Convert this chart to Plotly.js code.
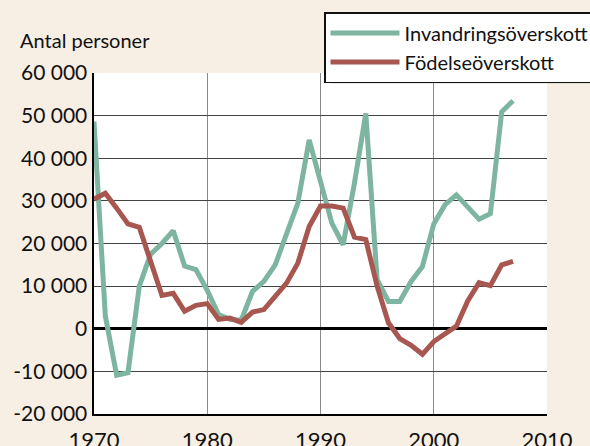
<!DOCTYPE html>
<html>
<head>
<meta charset="utf-8">
<script src="https://cdn.plot.ly/plotly-3.0.1.min.js"></script>
<style>html,body{margin:0;padding:0;background:#f7efe3;}#chart{width:590px;height:446px;}</style>
</head>
<body>
<div id="chart"></div>
<script>
const years = [1970,1971,1972,1973,1974,1975,1976,1977,1978,1979,1980,1981,1982,1983,1984,1985,1986,1987,1988,1989,1990,1991,1992,1993,1994,1995,1996,1997,1998,1999,2000,2001,2002,2003,2004,2005,2006,2007];
const invandring = [48600,3000,-10900,-10300,10000,17500,20000,23000,14700,13900,9000,3300,2200,2000,8800,11100,15000,22500,29500,44300,35000,24800,19700,34200,50500,11500,6400,6400,11100,14600,24600,29100,31400,28700,25700,27000,50900,53500];
const fodelse = [30400,31800,28300,24600,23800,16200,7800,8300,4100,5500,5900,2200,2500,1500,3900,4500,7600,10700,15400,24000,28800,28800,28300,21500,20900,10000,1400,-2300,-3900,-6000,-3000,-1300,600,6500,10800,10100,15000,15800];
const seriesNames = ['Invandringsöverskott','Födelseöverskott'];
const yTickVals = [-20000,-10000,0,10000,20000,30000,40000,50000,60000];
const yTickText = ['-20 000','-10 000','0','10 000','20 000','30 000','40 000','50 000','60 000'];
const xTickVals = [1970,1980,1990,2000,2010];
const yLabel = 'Antal personer';

const FONT = 'Lato, "Liberation Sans", sans-serif';
const traces = [
  {x: years, y: invandring, name: seriesNames[0], type: 'scatter', mode: 'lines',
   line: {color: '#7db5a0', width: 5}},
  {x: years, y: fodelse, name: seriesNames[1], type: 'scatter', mode: 'lines',
   line: {color: '#a85650', width: 5}}
];
const W = 590, H = 446, L = 94, R = 43, T = 73, B = 32;
const pw = W - L - R, ph = H - T - B;
const px = v => (v - L) / pw;
const py = v => (H - B - v) / ph;

const layout = {
  width: W, height: H,
  margin: {l: L, r: R, t: T, b: B, autoexpand: false},
  paper_bgcolor: '#f7efe3',
  plot_bgcolor: '#ffffff',
  font: {family: FONT, size: 22, color: '#111'},
  showlegend: true,
  legend: {x: px(324), y: py(12), xanchor: 'left', yanchor: 'top',
    bgcolor: '#ffffff', bordercolor: '#111', borderwidth: 1.5,
    font: {family: FONT, size: 20, color: '#111'}, itemwidth: 69, tracegroupgap: 0},
  xaxis: {range: [1970, 2010], tickvals: xTickVals, ticks: '', showgrid: true,
    gridcolor: '#8a8a8a', gridwidth: 1, showline: true, linecolor: '#000', linewidth: 2,
    zeroline: false, ticklabelstandoff: 6, tickfont: {family: FONT, size: 22, color: '#111'}},
  yaxis: {range: [-20000, 60000], tickvals: yTickVals, ticktext: yTickText, ticks: '',
    showgrid: true, gridcolor: '#444', gridwidth: 1, showline: true, linecolor: '#000', linewidth: 2.5,
    zeroline: true, zerolinecolor: '#000', zerolinewidth: 3, ticklabelstandoff: 0,
    tickfont: {family: FONT, size: 21, color: '#111'}},
  shapes: [
    {type: 'rect', xref: 'paper', yref: 'paper', x0: px(330), x1: px(600), y0: py(78), y1: py(84),
     fillcolor: 'rgba(0,0,0,0.08)', line: {width: 0}, layer: 'above'},
    {type: 'rect', xref: 'paper', yref: 'paper', x0: px(330), x1: px(600), y0: py(78), y1: py(81),
     fillcolor: 'rgba(0,0,0,0.08)', line: {width: 0}, layer: 'above'}
  ],
  annotations: [
    {text: yLabel, xref: 'paper', yref: 'paper', x: px(18), y: py(40), xanchor: 'left', yanchor: 'middle',
     showarrow: false, font: {family: FONT, size: 20, color: '#111'}}
  ]
};
Plotly.newPlot('chart', traces, layout, {displayModeBar: false, staticPlot: true});
</script>
</body>
</html>
